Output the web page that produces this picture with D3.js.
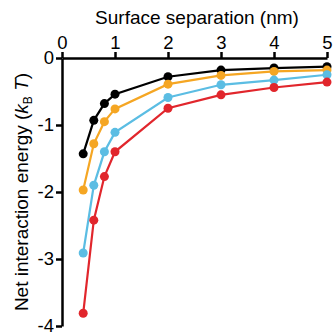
<!DOCTYPE html>
<html>
<head>
<meta charset="utf-8">
<script src="https://cdn.jsdelivr.net/npm/d3@7"></script>
<style>
  body { margin: 0; background: #fff; }
  text { font-family: "Liberation Sans", Arial, sans-serif; fill: #000; }
  .axis path, .axis line { stroke: #000; stroke-width: 2.5; }
  .axis text { font-size: 18.5px; }
</style>
</head>
<body>
<svg width="335" height="333"></svg>
<script>
var separation = [0.4, 0.6, 0.8, 1, 2, 3, 4, 5];
var blackSeries = [-1.43, -0.93, -0.68, -0.54, -0.28, -0.18, -0.15, -0.13];
var orangeSeries = [-1.97, -1.28, -0.95, -0.76, -0.39, -0.26, -0.20, -0.18];
var blueSeries = [-2.91, -1.90, -1.40, -1.11, -0.59, -0.40, -0.33, -0.25];
var redSeries = [-3.81, -2.42, -1.77, -1.40, -0.75, -0.55, -0.44, -0.36];
var xTicks = [0, 1, 2, 3, 4, 5];
var yTicks = [0, -1, -2, -3, -4];

var series = [
  {values: blackSeries, color: "#000000"},
  {values: orangeSeries, color: "#F5A623"},
  {values: blueSeries, color: "#5BBDE3"},
  {values: redSeries, color: "#E1262C"}
];

var svg = d3.select("svg");
var x = d3.scaleLinear().domain([0, 5]).range([62, 327]);
var y = d3.scaleLinear().domain([0, -4]).range([58, 326]);

svg.append("g")
  .attr("class", "axis")
  .attr("transform", "translate(0," + y(0) + ")")
  .call(d3.axisTop(x).tickValues(xTicks).tickSize(6).tickSizeOuter(0).tickPadding(3)
    .tickFormat(d3.format("d")));

svg.append("g")
  .attr("class", "axis")
  .attr("transform", "translate(" + x(0) + ",0)")
  .call(d3.axisLeft(y).tickValues(yTicks).tickSize(6).tickSizeOuter(0).tickPadding(2)
    .tickFormat(function(d) { return d === 0 ? "0" : "-" + Math.abs(d); }));

svg.append("text")
  .attr("x", 197).attr("y", 24)
  .attr("text-anchor", "middle")
  .style("font-size", "19px")
  .text("Surface separation (nm)");

var yl = svg.append("text")
  .attr("transform", "translate(28,192) rotate(-90)")
  .attr("text-anchor", "middle")
  .style("font-size", "19px");
yl.append("tspan").text("Net interaction energy (");
yl.append("tspan").style("font-style", "italic").text("k");
yl.append("tspan").attr("dy", 4).style("font-size", "12px").text("B");
yl.append("tspan").attr("dy", -4).text(" ");
yl.append("tspan").style("font-style", "italic").text("T");
yl.append("tspan").text(")");

var line = d3.line()
  .x(function(d, i) { return x(separation[i]); })
  .y(function(d) { return y(d); });

series.forEach(function(s) {
  var g = svg.append("g");
  g.append("path")
    .datum(s.values)
    .attr("d", line)
    .attr("fill", "none")
    .attr("stroke", s.color)
    .attr("stroke-width", 2.2);
  g.selectAll("circle")
    .data(s.values)
    .enter().append("circle")
    .attr("cx", function(d, i) { return x(separation[i]); })
    .attr("cy", function(d) { return y(d); })
    .attr("r", 4.5)
    .attr("fill", s.color);
});
</script>
</body>
</html>
